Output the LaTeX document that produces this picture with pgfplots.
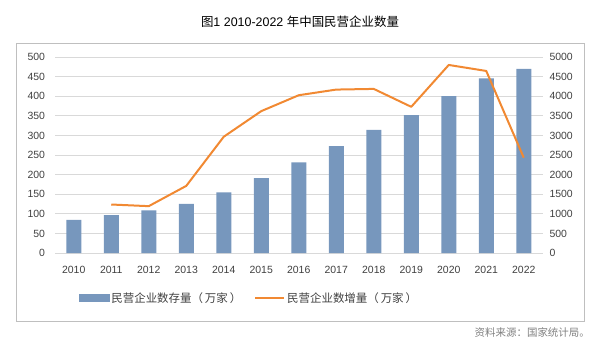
\documentclass[border=0pt]{standalone}
\usepackage{fontspec}
\setmainfont{Liberation Sans}
\newfontfamily\cjk{Noto Sans CJK SC}
\usepackage{pgfplots}
\pgfplotsset{compat=1.18}
\definecolor{barblue}{RGB}{119,151,189}
\definecolor{lineorange}{RGB}{241,137,50}
\definecolor{gridgray}{RGB}{217,217,217}
\definecolor{framegray}{RGB}{191,191,191}
\definecolor{labgray}{RGB}{64,64,64}
\begin{document}
\begin{tikzpicture}
\path[use as bounding box] (-55bp,-100bp) rectangle (545bp,253bp);
\draw[framegray, line width=0.8bp] (-39bp,-68bp) rectangle (529bp,210bp);
\begin{axis}[
  at={(0bp,0bp)}, anchor=south west, scale only axis,
  width=487.5bp, height=196bp,
  xmin=-0.5, xmax=12.5, ymin=0, ymax=500,
  ytick={0,50,...,500},
  xtick={0,...,12},
  xticklabels={2010,2011,2012,2013,2014,2015,2016,2017,2018,2019,2020,2021,2022},
  axis line style={draw=none},
  major tick length=0pt,
  ymajorgrids, grid style={gridgray, line width=0.8bp},
  /pgf/number format/assume math mode=true,
  /pgf/number format/1000 sep={},
  tick label style={font=\fontsize{10.5}{12}\selectfont, text=labgray},
  xticklabel style={yshift=-10bp},
  yticklabel style={xshift=-6.5bp},
  clip=false,
]
\addplot[ybar, bar width=15bp, fill=barblue, draw=none] coordinates {
(0,84.5) (1,96.8) (2,108.5) (3,125.4) (4,154.6) (5,190.8) (6,230.9) (7,272.6) (8,314.3) (9,351.6) (10,400.0) (11,445.7) (12,470.0)};
\end{axis}
\begin{axis}[
  at={(0bp,0bp)}, anchor=south west, scale only axis,
  width=487.5bp, height=196bp,
  xmin=-0.5, xmax=12.5, ymin=0, ymax=5000,
  ytick={0,500,...,5000},
  xtick=\empty,
  axis y line*=right, axis x line=none,
  axis line style={draw=none},
  major tick length=0pt,
  /pgf/number format/assume math mode=true,
  /pgf/number format/1000 sep={},
  tick label style={font=\fontsize{10.5}{12}\selectfont, text=labgray},
  yticklabel style={xshift=3.5bp},
  legend style={at={(0.398,-0.23)}, anchor=center, draw=none, fill=none,
    legend columns=2, font=\cjk\fontsize{11.5}{13}\selectfont, text=labgray,
    /tikz/every even column/.append style={column sep=11bp}},
  clip=false,
]
\addlegendimage{legend image code/.code={\fill[barblue] (0bp,-3.5bp) rectangle (30bp,3.5bp);}}
\addlegendentry{民营企业数存量（\,万家\,）}
\addplot[lineorange, line width=2bp, no marks, line join=round,
  legend image code/.code={\draw[lineorange, line width=2bp] (0bp,0bp) -- (29bp,0bp);}] coordinates {
(1,1237) (2,1195) (3,1712) (4,2966) (5,3619) (6,4025) (7,4169) (8,4186) (9,3729) (10,4797) (11,4644) (12,2432)};
\addlegendentry{民营企业数增量（\,万家\,）}
\end{axis}
\node[font=\fontsize{12.5}{14}\selectfont] at (245bp,231bp) {{\cjk 图}1 2010-2022 {\cjk 年中国民营企业数量}};
\node[anchor=east, inner sep=0pt, font=\cjk\fontsize{10.5}{12}\selectfont, text=gray] at (535bp,-79bp) {资料来源：国家统计局。};
\end{tikzpicture}
\end{document}
